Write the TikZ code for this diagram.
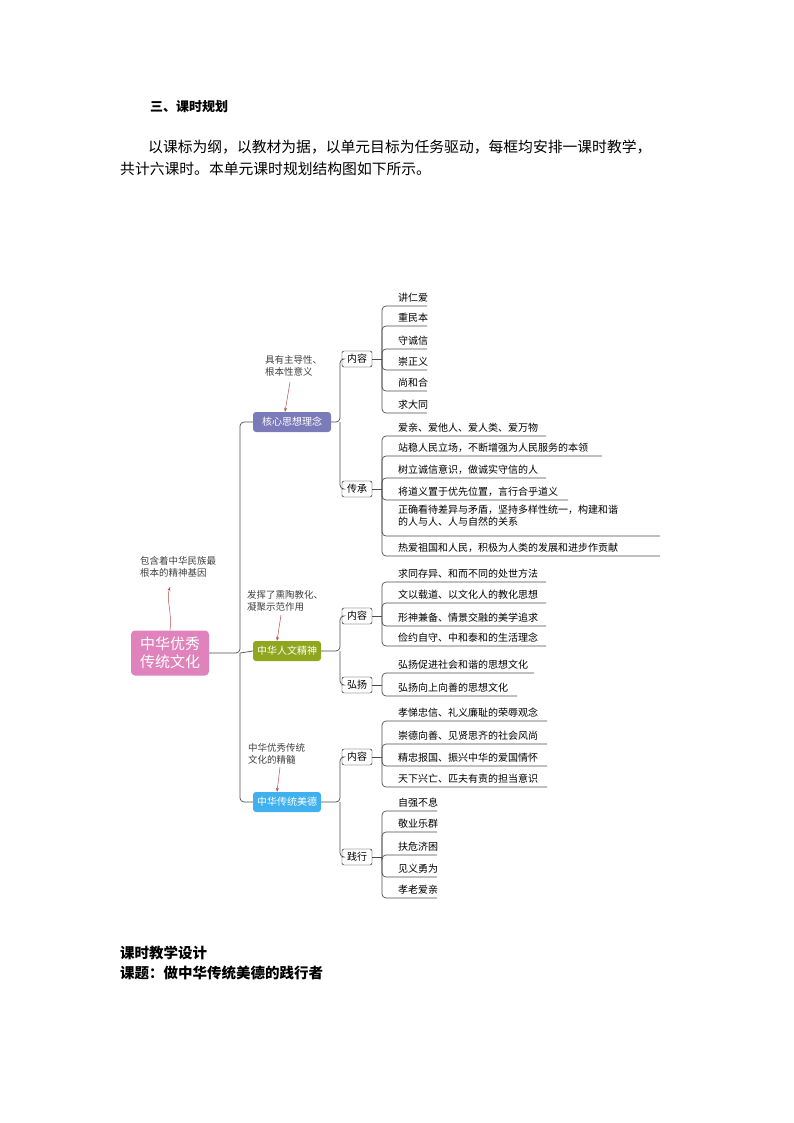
\documentclass[tikz,border=0pt]{standalone}
\usepackage{fontspec}
\setmainfont{Noto Sans CJK SC}
\newfontfamily\cjk{Noto Sans CJK SC}
\usetikzlibrary{arrows.meta}
\definecolor{cpur}{HTML}{7C7BB9}
\definecolor{colv}{HTML}{8FA61E}
\definecolor{cblu}{HTML}{40B0EE}
\definecolor{cpnk}{HTML}{E083BC}
\tikzset{
 br/.style={rounded corners=3pt,minimum height=20pt,inner sep=2pt,font=\fontsize{10}{10}\selectfont,text=white},
 sub/.style={draw,rounded corners=2pt,minimum width=30pt,minimum height=16pt,inner sep=1pt,font=\fontsize{10}{10}\selectfont},
 lf/.style={anchor=base west,inner sep=0pt,font=\fontsize{10}{12}\selectfont},
 ann/.style={align=left,text=black!75,font=\fontsize{9.5}{12}\selectfont,inner sep=0pt},
 con/.style={black!70,line width=0.7pt,rounded corners=4pt},
 ar/.style={red!60!black!70,line width=0.5pt,-{Stealth[length=4pt]}},
}
\newcommand{\leaf}[5]{% name, box, y(text baseline), text, endx
 \node[lf] (#1) at (398,#3) {#4};
 \draw[con] (382,#2) |- (#5,#3+5);
}
\begin{document}
\begin{tikzpicture}[x=1pt,y=-1pt]
\useasboundingbox (0,0) rectangle (794,1123);
% text
\node[anchor=base west,inner sep=0pt,font=\fontsize{13}{13}\selectfont\bfseries] (h1) at (150,112) {三、课时规划};
\node[anchor=base west,inner sep=0pt,font=\fontsize{14.8}{15}\selectfont] (p1) at (148,153) {以课标为纲，以教材为据，以单元目标为任务驱动，每框均安排一课时教学，};
\node[anchor=base west,inner sep=0pt,font=\fontsize{14.8}{15}\selectfont] (p2) at (120,175) {共计六课时。本单元课时规划结构图如下所示。};
\node[anchor=base west,inner sep=0pt,font=\fontsize{14.5}{15}\selectfont\bfseries] (h2) at (120,958) {课时教学设计};
\node[anchor=base west,inner sep=0pt,font=\fontsize{14.5}{15}\selectfont\bfseries] (h3) at (120,978) {课题：做中华传统美德的践行者};
% root
\node[fill=cpnk,rounded corners=4pt,minimum width=78pt,minimum height=45pt,align=center,text=white,font=\fontsize{15}{18}\selectfont] (root) at (170,653) {中华优秀\\传统文化};
\node[ann,anchor=north west] (a0) at (140,556) {包含着中华民族最\\根本的精神基因};
\draw[ar] (root.north) .. controls (172,610) and (166,600) .. (170,587);
% branches
\node[br,fill=cpur,minimum width=78pt] (b1) at (292,422) {核心思想理念};
\node[br,fill=colv,minimum width=68pt] (b2) at (287,651) {中华人文精神};
\node[br,fill=cblu,minimum width=68pt] (b3) at (287,802) {中华传统美德};
\draw[con] (root.east) -- (240,653) |- (b1.west);
\draw[con] (240,653) -- (b2.west);
\draw[con] (240,653) |- (b3.west);
\node[ann,anchor=north west] (a1) at (265,355) {具有主导性、\\根本性意义};
\draw[ar] (290,382) -- (b1.north-|285,0);
\node[ann,anchor=north west] (a2) at (247,590) {发挥了熏陶教化、\\凝聚示范作用};
\draw[ar] (281,615) -- (b2.north-|277,0);
\node[ann,anchor=north west] (a3) at (248,743) {中华优秀传统\\文化的精髓};
\draw[ar] (280,767) -- (b3.north-|277,0);
% sub boxes
\node[sub] (c1) at (357,359) {内容};
\node[sub] (c2) at (357,489) {传承};
\node[sub] (c3) at (357,616) {内容};
\node[sub] (c4) at (357,685) {弘扬};
\node[sub] (c5) at (357,757) {内容};
\node[sub] (c6) at (357,857) {践行};
\draw[con] (b1.east) -- (340,422) |- (c1.west); \draw[con] (340,422) |- (c2.west);
\draw[con] (b2.east) -- (340,651) |- (c3.west); \draw[con] (340,651) |- (c4.west);
\draw[con] (b3.east) -- (340,802) |- (c5.west); \draw[con] (340,802) |- (c6.west);
\foreach \c in {c1,c2,c3,c4,c5,c6} \draw[con] (\c.east) -- ++(10,0);
% leaves c1
\leaf{l1}{359}{301}{讲仁爱}{427}
\leaf{l2}{359}{321}{重民本}{427}
\leaf{l3}{359}{344}{守诚信}{427}
\leaf{l4}{359}{365}{崇正义}{427}
\leaf{l5}{359}{386}{尚和合}{427}
\leaf{l6}{359}{408}{求大同}{427}
% c2
\leaf{m1}{489}{431}{爱亲、爱他人、爱人类、爱万物}{546}
\leaf{m2}{489}{451}{站稳人民立场，不断增强为人民服务的本领}{602}
\leaf{m3}{489}{473}{树立诚信意识，做诚实守信的人}{546}
\leaf{m4}{489}{495}{将道义置于优先位置，言行合乎道义}{568}
\node[lf,align=left,anchor=north west] (m5) at (398,505) {正确看待差异与矛盾，坚持多样性统一，构建和谐\\的人与人、人与自然的关系};
\draw[con] (382,489) |- (660,536);
\leaf{m6}{489}{551}{热爱祖国和人民，积极为人类的发展和进步作贡献}{660}
% c3
\leaf{n1}{616}{577}{求同存异、和而不同的处世方法}{546}
\leaf{n2}{616}{598}{文以载道、以文化人的教化思想}{546}
\leaf{n3}{616}{621}{形神兼备、情景交融的美学追求}{546}
\leaf{n4}{616}{641}{俭约自守、中和泰和的生活理念}{546}
% c4
\leaf{o1}{685}{668}{弘扬促进社会和谐的思想文化}{534}
\leaf{o2}{685}{691}{弘扬向上向善的思想文化}{517}
% c5
\leaf{q1}{757}{716}{孝悌忠信、礼义廉耻的荣辱观念}{547}
\leaf{q2}{757}{739}{崇德向善、见贤思齐的社会风尚}{547}
\leaf{q3}{757}{761}{精忠报国、振兴中华的爱国情怀}{547}
\leaf{q4}{757}{782}{天下兴亡、匹夫有责的担当意识}{547}
% c6
\leaf{r1}{857}{806}{自强不息}{437}
\leaf{r2}{857}{827}{敬业乐群}{437}
\leaf{r3}{857}{850}{扶危济困}{437}
\leaf{r4}{857}{872}{见义勇为}{437}
\leaf{r5}{857}{893}{孝老爱亲}{437}
\end{tikzpicture}
\end{document}
